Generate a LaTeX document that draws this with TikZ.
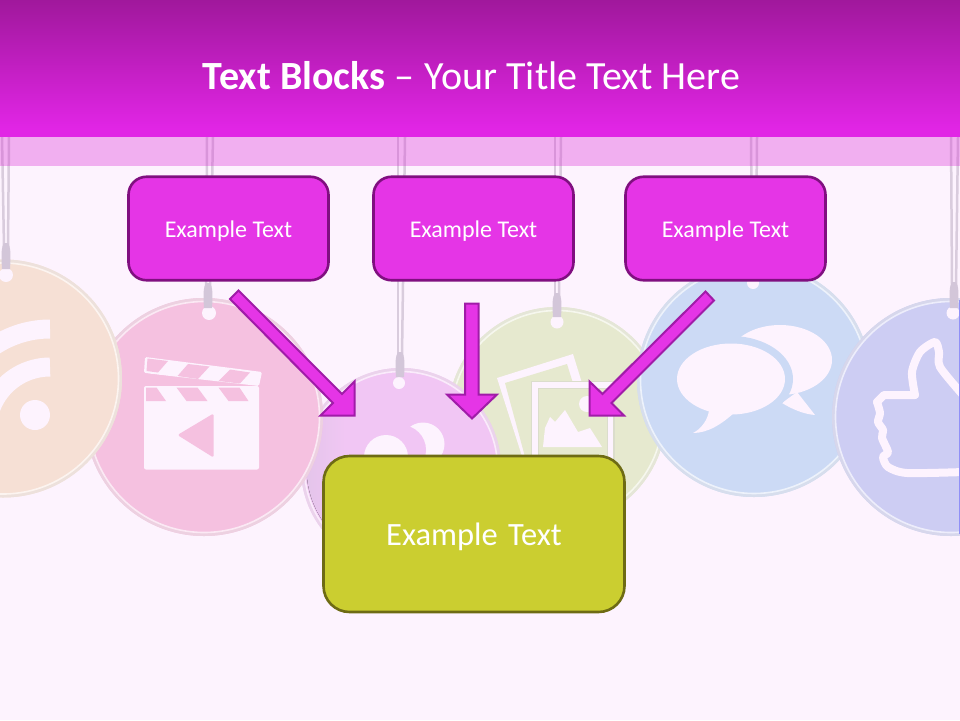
\documentclass[tikz,border=0pt]{standalone}
\usepackage{fontspec}
\setmainfont{Carlito}
\definecolor{pagebg}{HTML}{FDF3FE}
\definecolor{headtop}{HTML}{A0189C}
\definecolor{headbot}{HTML}{E125E5}
\definecolor{bandcol}{RGB}{217,38,212}
\definecolor{boxfill}{HTML}{E535E6}
\definecolor{boxline}{HTML}{800F80}
\definecolor{arrline}{HTML}{A01CA8}
\definecolor{olivefill}{HTML}{CBCE30}
\definecolor{oliveline}{HTML}{6E6B14}
\definecolor{stringcol}{HTML}{D9CCDD}
\definecolor{loopcol}{HTML}{D3C6D9}
\definecolor{cOrange}{HTML}{F6E0D5}
\definecolor{cPink}{HTML}{F5C1E0}
\definecolor{cPurple}{HTML}{F1C6F4}
\definecolor{cPurpleL}{HTML}{E4C5EA}
\definecolor{cGreen}{HTML}{E6E9CF}
\definecolor{cBlue}{HTML}{CCDAF5}
\definecolor{cViolet}{HTML}{CDCDF3}
\tikzset{
  smallbox/.style={draw=boxline,line width=2.6pt,fill=boxfill,rounded corners=18pt,
    minimum width=200pt,minimum height=103.5pt,text=white,inner sep=0pt,
    font=\fontsize{24}{28}\selectfont},
  bigbox/.style={draw=oliveline,line width=2.6pt,fill=olivefill,rounded corners=26pt,
    minimum width=301pt,minimum height=156pt,text=white,inner sep=0pt,
    font=\fontsize{32.5}{38}\selectfont},
  blockarrow/.style={draw=arrline,line width=2pt,fill=boxfill,miter limit=10},
  stringline/.style={draw=stringcol,line width=2.5pt},
  loopshape/.style={fill=loopcol,draw=none},
  iconfill/.style={fill=pagebg,draw=none},
}
% disc: x, y, r, colour
\newcommand{\tagdisc}[4]{%
  \fill[#4] (#1,#2) circle (#3);
  \draw[#4!60!white!90!gray,line width=3pt] (#1,#2) circle (#3-1.5);
  \draw[#4!35!white,line width=1.6pt] (#1,#2) circle (#3-3.5);
}
% string: x1 x2 (top), loop top y, loop bottom y, loop x
\newcommand{\tagstring}[5]{%
  \draw[stringline] (#1,137) -- (#5-2,#3+4);
  \draw[stringline] (#2,137) -- (#5+2,#3+4);
  \fill[loopshape] (#5-2,#3) -- (#5+2,#3) .. controls (#5+4.5,#3+4) and (#5+5,#3+10) .. (#5+4,#4) -- (#5-4,#4) .. controls (#5-5,#3+10) and (#5-4.5,#3+4) .. cycle;
}
\begin{document}
\begin{tikzpicture}[x=1pt,y=-1pt]
\clip (0,0) rectangle (960,720);
\fill[pagebg] (0,0) rectangle (960,720);
% discs
\tagdisc{557}{416}{109}{cGreen}
\tagdisc{754}{380}{117}{cBlue}
\tagdisc{951}{417}{119}{cViolet}
\tagdisc{401}{468}{100}{cPurple}
\begin{scope}
  \clip (401,468) circle (94.5);
  \fill[left color=cPurpleL,right color=cPurple] (306,368) rectangle (345,568);
\end{scope}
\tagdisc{204}{417}{119}{cPink}
\tagdisc{3}{378.5}{119}{cOrange}
% holes
\foreach \hx/\hy/\hr in {6/275/7,209/313/7,399/383/6,557/322/6.5,753/283/6,953/313/6.5}
  \fill[pagebg] (\hx,\hy) circle (\hr);
% strings
\tagstring{2}{9}{243}{269}{6}
\tagstring{207}{213}{283}{308}{208}
\tagstring{398}{405}{352}{377}{400}
\tagstring{555}{561}{293}{317}{557}
\tagstring{751}{757}{255}{280}{754}
\tagstring{951}{958}{282}{308}{954}
% RSS icon
\fill[pagebg] (35,415) circle (15);
\draw[pagebg,line width=19pt] (50,367) arc[start angle=270,end angle=175,radius=63];
\draw[pagebg,line width=19pt] (50,329) arc[start angle=270,end angle=175,radius=101];
% clapper icon
\fill[iconfill,rounded corners=1.5pt] (145,357) -- (262,372) -- (259,386) -- (144,373) -- cycle;
\fill[iconfill,rounded corners=2pt] (144,386) -- (259,386) -- (259,469.5) -- (144,469.5) -- cycle;
\fill[cPink] (144,373) -- (223,384) -- (144,385) -- cycle;
\fill[cPink] (147.5,358.5) -- (168,361) -- (158,372.5) -- (146.5,371) -- cycle;
\fill[cPink] (188,364) -- (209.5,366.5) -- (198,379) -- (177.5,376) -- cycle;
\fill[cPink] (230,369.5) -- (250,372.5) -- (240,383.5) -- (218.5,381) -- cycle;
\fill[cPink] (146,387.5) -- (156.5,387.5) -- (166,401) -- (146,401) -- cycle;
\fill[cPink] (176.5,387.5) -- (197.5,387.5) -- (207.5,401) -- (186.5,401) -- cycle;
\fill[cPink] (218.5,387.5) -- (239.5,387.5) -- (248.5,401) -- (228.5,401) -- cycle;
\fill[cPink,rounded corners=1.5pt] (213.5,413.5) -- (213.5,457.5) -- (177.5,435) -- cycle;
% purple disc icon
\fill[pagebg] (423,444) circle (21.5);
\fill[cPurple] (401,450) circle (25);
\fill[pagebg] (386,457) circle (22);
% photo icon
\fill[pagebg] (497,378) -- (573,354) -- (612,480) -- (536,500) -- cycle;
\fill[cGreen] (505,383) -- (567,364) -- (600,470) -- (534,490) -- cycle;
\fill[cGreen!80!gray!80!white] (530.5,380.5) rectangle (614.5,500);
\fill[pagebg] (532,382) rectangle (613,500);
\fill[cGreen!80!gray!80!white] (538,387.5) rectangle (608,500);
\fill[cGreen] (539,388.5) rectangle (607,500);
\fill[pagebg] (587,404) circle (8);
\fill[pagebg] (543,447) -- (545,428) -- (550,417) -- (555,422) -- (565,410) -- (578,432) -- (590,428) -- (602,447) -- cycle;
% speech icon
\fill[iconfill] (780,360) ellipse [x radius=52,y radius=35];
\fill[iconfill] (782,403) -- (797,392) -- (815,415) .. controls (803,414) and (792,409) .. cycle;
\fill[cBlue] (731,379) ellipse [x radius=62,y radius=43];
\fill[iconfill] (731,379) ellipse [x radius=54,y radius=35.5];
\fill[iconfill] (709,410) .. controls (708,420) and (701,429) .. (693,433) .. controls (708,433) and (722,424) .. (735,412) -- cycle;
% thumb icon
\draw[pagebg,line width=8pt,line join=round,line cap=round]
  plot[smooth,tension=.45] coordinates {(915,395) (912,372) (920,352) (935,342) (939,352) (940,367) (962,394)};
\draw[pagebg,line width=8pt,line join=round,line cap=round]
  (915,395) -- (884,395) -- (877,402);
\draw[pagebg,line width=8pt,line join=round,line cap=round]
  plot[smooth,tension=.45] coordinates {(877,402) (880,413) (878,422) (883,430) (882,438) (888,452) (883,457) (888,467) (907,473) (964,472)};
\draw[cViolet!70!blue,line width=1pt] (959.5,300) -- (959.5,534);
% band and header
\fill[bandcol,opacity=.33] (0,137) rectangle (960,166);
\fill[top color=headtop,bottom color=headbot] (0,0) rectangle (960,128);
\fill[headbot] (0,127.5) rectangle (960,137);
\node[text=white,inner sep=0pt,font=\fontsize{40}{46}\selectfont] (title) at (471.5,76)
  {\textbf{Text Blocks} –\hspace{1.5pt} Your Title Text Here};
% boxes
\node[smallbox] (a) at (228.5,228.5) {\raisebox{-2.5pt}[\height][\depth]{Example Text}};
\node[smallbox] (b) at (473.5,228.5) {\raisebox{-2.5pt}[\height][\depth]{Example Text}};
\node[smallbox] (c) at (725.5,228.5) {\raisebox{-2.5pt}[\height][\depth]{Example Text}};
\node[bigbox] (d) at (474,534) {\raisebox{-3pt}[\height][\depth]{Example\hspace{3pt} Text}};
% arrows
\draw[blockarrow] (230,299) -- (238.5,290.5) -- (342,394) -- (354.5,381.5) -- (354.5,415.5) -- (320.5,415.5) -- (333,403) -- cycle;
\draw[blockarrow] (465,303.5) -- (478.5,303.5) -- (478.5,394.5) -- (497,394.5) -- (472,418.5) -- (447,394.5) -- (465,394.5) -- cycle;
\draw[blockarrow] (714,300.5) -- (705.5,291.5) -- (602.5,394) -- (589.5,381.5) -- (589.5,415.5) -- (624,415.5) -- (611.5,403) -- cycle;
\end{tikzpicture}
\end{document}
